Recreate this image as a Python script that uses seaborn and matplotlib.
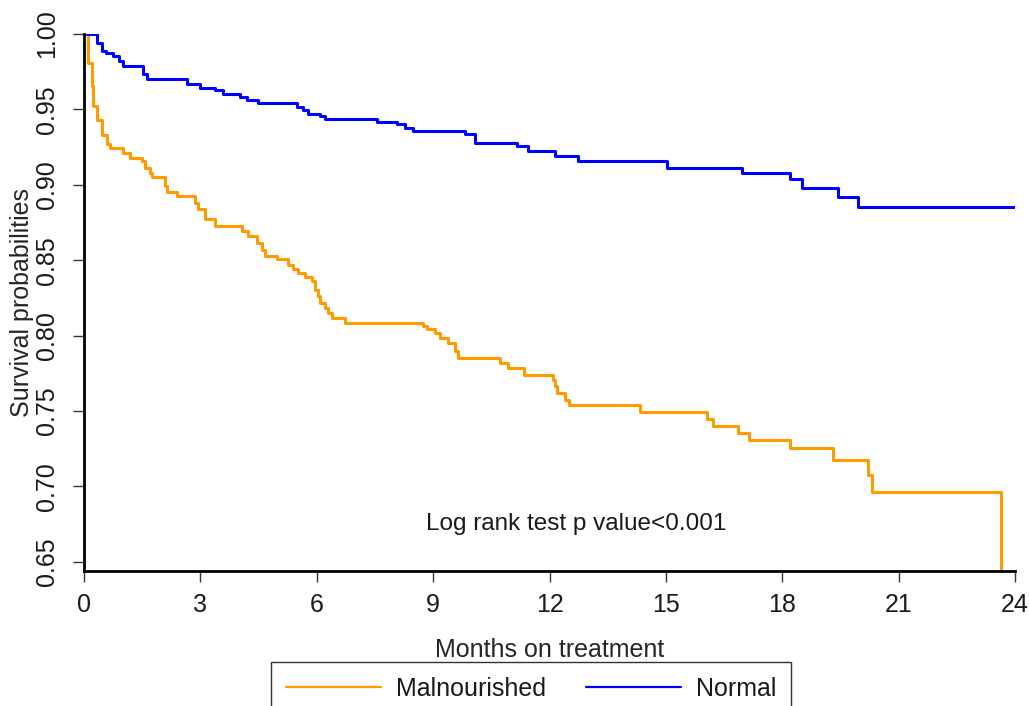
import numpy as np
import pandas as pd
import seaborn as sns
import matplotlib.pyplot as plt

# Kaplan-Meier step points (months, survival)
normal_months = [0, 0.33, 0.46, 0.58, 0.76, 0.89, 1.01, 1.53, 1.62, 2.65, 2.99,
                 3.38, 3.59, 4.02, 4.19, 4.49, 5.48, 5.65, 5.78, 6.08, 6.21,
                 7.55, 8.06, 8.27, 8.49, 9.82, 10.08, 11.16, 11.45, 12.14,
                 12.74, 15.02, 16.96, 18.20, 18.50, 19.45, 19.96, 24.0]
normal_surv = [1.0, 0.994, 0.9887, 0.9877, 0.9854, 0.982, 0.9788, 0.9732, 0.970,
               0.9666, 0.9644, 0.9628, 0.960, 0.9584, 0.9562, 0.954, 0.9518,
               0.9496, 0.9467, 0.9456, 0.9438, 0.9416, 0.940, 0.9378, 0.9356,
               0.9339, 0.9279, 0.9256, 0.9223, 0.919, 0.9157, 0.9113, 0.9075,
               0.9035, 0.898, 0.8918, 0.8852, 0.8852]

malnourished_months = [0, 0.11, 0.20, 0.24, 0.33, 0.46, 0.59, 0.67, 1.01, 1.19,
                       1.49, 1.57, 1.70, 1.75, 2.09, 2.13, 2.39, 2.86, 2.95,
                       3.12, 3.38, 4.07, 4.24, 4.45, 4.58, 4.67, 4.97, 5.27,
                       5.40, 5.52, 5.70, 5.87, 5.96, 6.04, 6.08, 6.21, 6.30,
                       6.39, 6.73, 8.75, 8.83, 9.05, 9.18, 9.39, 9.56, 9.65,
                       10.72, 10.94, 11.33, 12.10, 12.14, 12.19, 12.40, 12.49,
                       14.33, 16.05, 16.22, 16.87, 17.13, 18.20, 19.32, 20.22,
                       20.31, 23.63]
malnourished_surv = [1.0, 0.981, 0.9655, 0.952, 0.943, 0.933, 0.927, 0.9246,
                     0.921, 0.918, 0.9157, 0.911, 0.908, 0.905, 0.899, 0.895,
                     0.8924, 0.888, 0.8836, 0.877, 0.8725, 0.869, 0.866, 0.8615,
                     0.857, 0.8526, 0.851, 0.847, 0.844, 0.8416, 0.839, 0.836,
                     0.8305, 0.826, 0.8217, 0.8183, 0.815, 0.8117, 0.8084, 0.806,
                     0.804, 0.8017, 0.7984, 0.795, 0.7895, 0.785, 0.7818, 0.7785,
                     0.774, 0.7707, 0.7663, 0.762, 0.7574, 0.7541, 0.749, 0.7446,
                     0.7397, 0.7353, 0.7305, 0.7254, 0.7176, 0.7077, 0.696, 0.60]

groups = ["Malnourished", "Normal"]
colors = {"Malnourished": "#FF9B00", "Normal": "#0000FF"}
x_ticks = [0, 3, 6, 9, 12, 15, 18, 21, 24]
y_ticks = [0.65, 0.70, 0.75, 0.80, 0.85, 0.90, 0.95, 1.00]

df = pd.concat([
    pd.DataFrame({"months": malnourished_months, "survival": malnourished_surv,
                  "group": "Malnourished"}),
    pd.DataFrame({"months": normal_months, "survival": normal_surv,
                  "group": "Normal"}),
], ignore_index=True)

sns.set_theme(style="white")
plt.rcParams['font.family'] = ['Liberation Sans', 'DejaVu Sans']
plt.rcParams['text.color'] = '#1a1a1a'

fig = plt.figure(figsize=(10.29, 7.06), dpi=100)
ax = fig.add_axes([84 / 1029, 1 - 571 / 706, 931 / 1029, 537 / 706])

sns.lineplot(data=df, x="months", y="survival", hue="group", hue_order=groups,
             palette=colors, estimator=None, drawstyle="steps-post",
             linewidth=2.2, ax=ax)

ax.set_xlim(0, 24)
ax.set_ylim(0.6438, 1.0)
ax.set_xticks(x_ticks)
ax.set_xticklabels([str(t) for t in x_ticks])
ax.set_yticks(y_ticks)
ax.set_yticklabels([f"{v:.2f}" for v in y_ticks], rotation=90, va="center")

ax.tick_params(axis="both", which="major", length=8, width=1.0, color="#333333",
               labelsize=18, labelcolor="#1a1a1a", direction="out",
               bottom=True, left=True)
ax.tick_params(axis="x", pad=8)
ax.tick_params(axis="y", pad=10)

for side in ["top", "right"]:
    ax.spines[side].set_visible(False)
for side in ["left", "bottom"]:
    ax.spines[side].set_color("black")
    ax.spines[side].set_linewidth(2.0)

ax.set_xlabel("Months on treatment", fontsize=18, labelpad=15)
ax.set_ylabel("Survival probabilities", fontsize=18, labelpad=0.5)

ax.text(12.68, 0.675, "Log rank test p value<0.001", fontsize=17.5,
        ha="center", va="center")

sns.move_legend(ax, "upper center", bbox_to_anchor=(0.48, -0.1695), ncol=2,
                title=None, frameon=True, fancybox=False, edgecolor="black",
                fontsize=18, handlelength=3.8, handletextpad=0.6,
                columnspacing=1.6, borderpad=0.6, borderaxespad=0)
leg = ax.get_legend()
leg.get_frame().set_linewidth(1.0)
for line in leg.get_lines():
    line.set_linewidth(1.6)

fig.savefig("out.png", dpi=100)
